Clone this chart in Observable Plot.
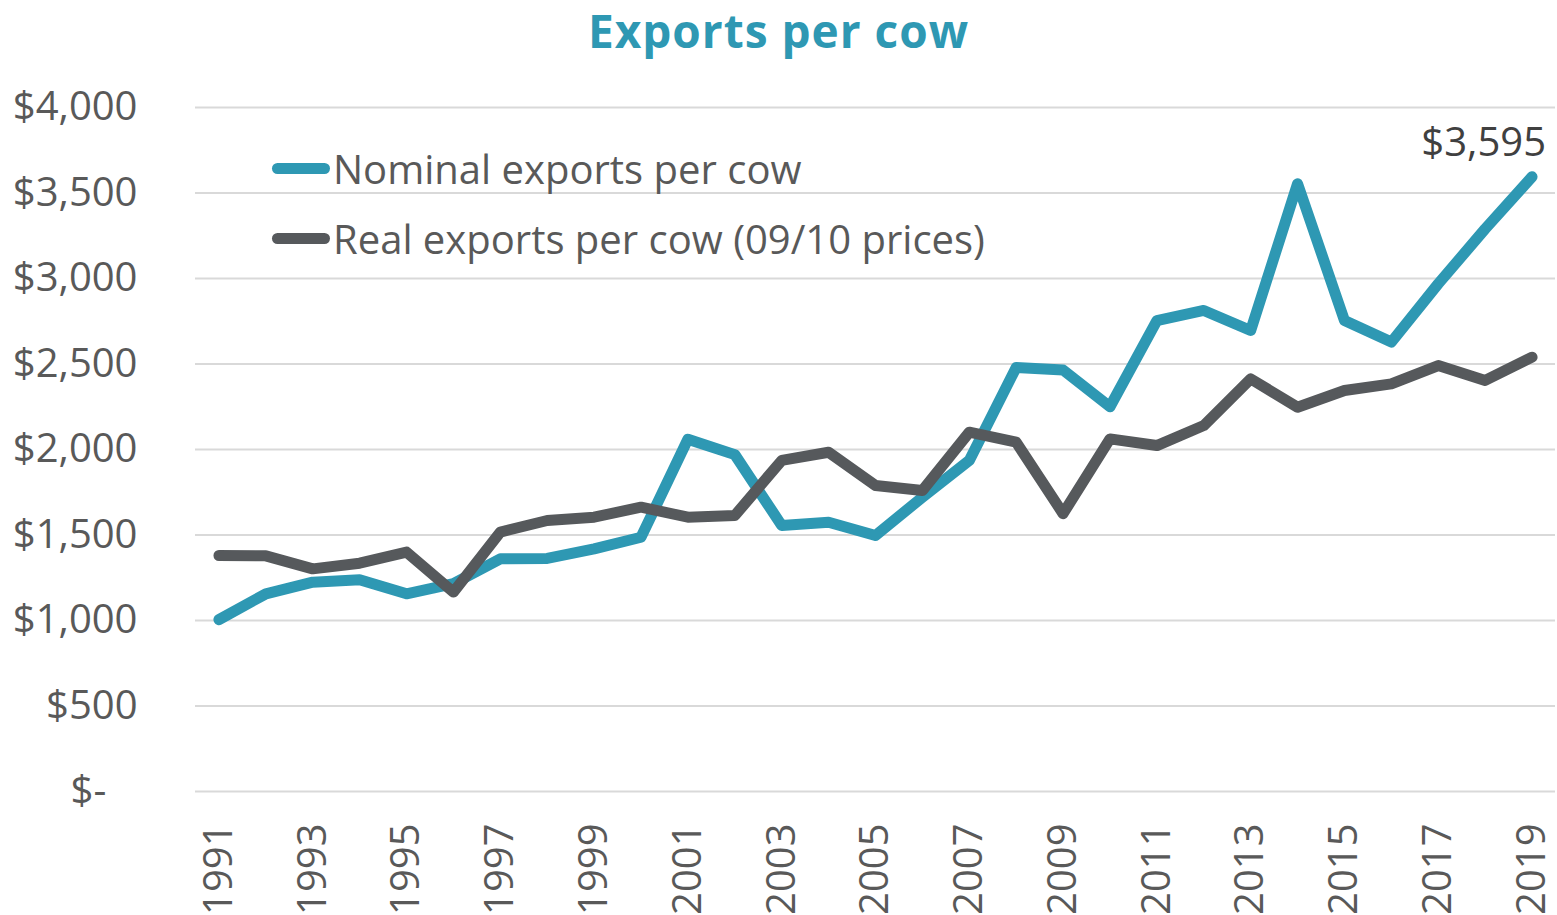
<!DOCTYPE html>
<html>
<head>
<meta charset="utf-8">
<script src="https://cdn.jsdelivr.net/npm/d3@7"></script>
<script src="https://cdn.jsdelivr.net/npm/@observablehq/plot@0.6"></script>
<style>
  body { margin: 0; background: #fff; font-family: "Open Sans", sans-serif; }
  #wrap { position: relative; width: 1557px; height: 915px; overflow: hidden; }
  #title { position: absolute; left: 0; top: 7px; width: 1557px; text-align: center; color: #2E98B3; font-weight: 700; font-size: 46px; line-height: 1; letter-spacing: 1px; }
  #chart { position: absolute; left: 0; top: 55px; }
  #legend { position: absolute; left: 272px; top: 133px; color: #595959; font-size: 40px; }
  .item { display: flex; align-items: center; height: 70px; }
  .swatch { width: 58px; height: 11px; border-radius: 5.5px; margin-right: 3px; }
  svg { display: block; }
</style>
</head>
<body>
<div id="wrap">
  <div id="chart"></div>
  <div id="title">Exports per cow</div>
  <div id="legend"></div>
</div>
<script>
const years = [1991,1992,1993,1994,1995,1996,1997,1998,1999,2000,2001,2002,2003,2004,2005,2006,2007,2008,2009,2010,2011,2012,2013,2014,2015,2016,2017,2018,2019];
const nominal = [1005,1156,1224,1238,1156,1216,1361,1363,1419,1487,2060,1970,1556,1575,1497,1721,1936,2480,2465,2250,2754,2813,2696,3554,2754,2628,2969,3290,3595];
const real = [1380,1378,1302,1335,1400,1166,1517,1585,1604,1663,1604,1614,1936,1984,1789,1760,2101,2043,1625,2062,2023,2140,2413,2247,2345,2384,2491,2404,2540];
const seriesNames = ["Nominal exports per cow", "Real exports per cow (09/10 prices)"];
const seriesColors = ["#2E98B3", "#56595C"];
const yTicks = [0,500,1000,1500,2000,2500,3000,3500,4000];
const xTicks = [1991,1993,1995,1997,1999,2001,2003,2005,2007,2009,2011,2013,2015,2017,2019];
const annotation = [{year: 2019, value: 3595}];

const data = [];
years.forEach((yr, i) => data.push({year: yr, value: nominal[i], series: seriesNames[0]}));
years.forEach((yr, i) => data.push({year: yr, value: real[i], series: seriesNames[1]}));

const fmt = d3.format(",");
const chart = Plot.plot({
  width: 1557,
  height: 860,
  marginTop: 52,
  marginBottom: 124,
  marginLeft: 195,
  marginRight: 2,
  x: {domain: [1990.5, 2019.5], axis: null},
  y: {domain: [0, 4000], axis: null},
  color: {domain: seriesNames, range: seriesColors},
  style: {fontFamily: "Open Sans, sans-serif", color: "#595959", background: "white", overflow: "visible"},
  marks: [
    Plot.ruleY(yTicks, {stroke: "#D9D9D9", strokeWidth: 2}),
    Plot.axisY({ticks: yTicks, tickSize: 0, tickPadding: 58, fontSize: 40, fill: "#595959", label: null,
      tickFormat: d => d === 0 ? "$-\u00a0\u00a0\u00a0" : "$" + fmt(d)}),
    Plot.axisX({ticks: xTicks, tickSize: 0, tickPadding: 32, tickRotate: -90, fontSize: 40, fill: "#595959", label: null,
      tickFormat: d => String(d)}),
    Plot.line(data, {x: "year", y: "value", stroke: "series", z: "series", strokeWidth: 11,
      strokeLinecap: "round", strokeLinejoin: "round"}),
    Plot.text(annotation, {x: "year", y: "value", text: d => "$" + fmt(d.value),
      textAnchor: "end", dx: 14, dy: -34, fontSize: 40, fill: "#404040"})
  ]
});
document.getElementById("chart").appendChild(chart);

const legend = document.getElementById("legend");
seriesNames.forEach((name, i) => {
  const item = document.createElement("div");
  item.className = "item";
  const sw = document.createElement("span");
  sw.className = "swatch";
  sw.style.background = seriesColors[i];
  const label = document.createElement("span");
  label.textContent = name;
  item.appendChild(sw);
  item.appendChild(label);
  legend.appendChild(item);
});
</script>
</body>
</html>
